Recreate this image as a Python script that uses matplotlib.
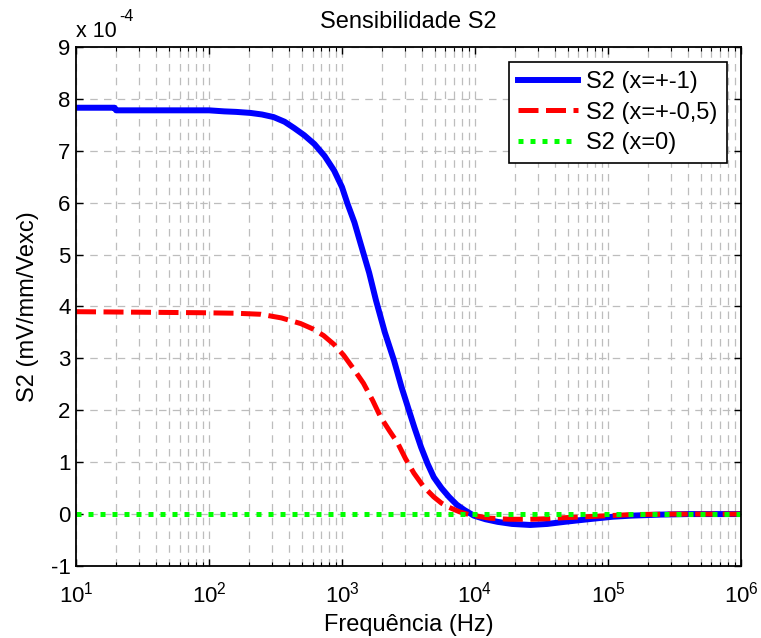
import matplotlib.pyplot as plt
from matplotlib.ticker import FuncFormatter, LogLocator, NullFormatter

plt.rcParams["font.family"] = "Liberation Sans"
plt.rcParams["mathtext.fontset"] = "custom"
plt.rcParams["mathtext.rm"] = "Liberation Sans"

# values (S2 in units of 1e-4 mV/mm/Vexc)
freq_1 = [10, 19.5, 20, 50, 100, 130, 160, 205, 250, 306, 370, 436, 520, 620,
          740, 872, 1000, 1100, 1240, 1380, 1600, 1800, 2100, 2460, 2800, 3130,
          3500, 3930, 4400, 4900, 5600, 6380, 7300, 8300, 9800, 12000, 14800,
          19000, 26000, 35000, 47000, 65000, 84000, 110000, 150000, 250000,
          400000, 1e6]
s2_1 = [7.83, 7.83, 7.78, 7.78, 7.78, 7.76, 7.75, 7.73, 7.70, 7.65, 7.56, 7.44,
        7.30, 7.13, 6.90, 6.62, 6.30, 5.98, 5.62, 5.21, 4.65, 4.12, 3.50, 2.96,
        2.45, 2.06, 1.67, 1.29, 0.97, 0.71, 0.50, 0.33, 0.18, 0.08, -0.03,
        -0.10, -0.15, -0.19, -0.21, -0.19, -0.15, -0.11, -0.08, -0.05, -0.03,
        -0.01, 0.0, 0.0]

freq_05 = [10, 86, 160, 245, 350, 490, 600, 727, 870, 1030, 1220, 1450, 1700,
           1950, 2280, 2620, 3000, 3470, 4100, 4900, 5600, 6380, 7700, 9000,
           11000, 13000, 18000, 26000, 35000, 47000, 84000, 150000, 300000, 1e6]
s2_05 = [3.90, 3.88, 3.87, 3.85, 3.78, 3.67, 3.57, 3.44, 3.27, 3.06, 2.80, 2.52,
         2.19, 1.87, 1.60, 1.37, 1.07, 0.79, 0.53, 0.33, 0.21, 0.13, 0.04, -0.01,
         -0.05, -0.08, -0.10, -0.10, -0.09, -0.07, -0.04, -0.01, 0.0, 0.0]

freq_0 = [10, 1e6]
s2_0 = [0.0, 0.0]

scale = 1e-4
s2_1 = [v * scale for v in s2_1]
s2_05 = [v * scale for v in s2_05]
s2_0 = [v * scale for v in s2_0]

fig = plt.figure(figsize=(7.61, 6.38), dpi=100)
ax = fig.add_axes([0.0999, 0.1129, 0.8738, 0.8134])

ax.semilogx(freq_1, s2_1, color="#0000ff", lw=4.3, label="S2 (x=+-1)")
ax.semilogx(freq_05, s2_05, color="#ff0000", lw=3.6, dashes=(4, 1.5),
            label="S2 (x=+-0,5)")
ax.semilogx(freq_0, s2_0, color="#00ff00", lw=3.6, dashes=(1, 1.4),
            label="S2 (x=0)")

ax.set_xlim(10, 1e6)
ax.set_ylim(-1e-4, 9e-4)
ax.set_yticks([i * scale for i in range(-1, 10)])
ax.yaxis.set_major_formatter(FuncFormatter(lambda v, p: "%d" % round(v / scale)))
ax.xaxis.set_major_locator(LogLocator(base=10, numticks=10))
ax.xaxis.set_minor_locator(LogLocator(base=10, subs=range(2, 10), numticks=20))
ax.xaxis.set_minor_formatter(NullFormatter())

ax.grid(True, which="major", color="#bdbdbd", ls=(0, (6, 5)), lw=0.9)
ax.grid(True, which="minor", axis="x", color="#bdbdbd", ls=(0, (6, 5)), lw=0.9)
ax.tick_params(which="both", direction="in", top=True, right=True,
               labelsize=16, colors="black")
ax.tick_params(which="major", length=5, width=1)
ax.tick_params(axis="x", which="major", pad=11)
ax.tick_params(axis="y", which="major", pad=4)
ax.tick_params(which="minor", length=3, width=0.8)
for s in ax.spines.values():
    s.set_linewidth(1.3)

ax.set_title("Sensibilidade S2", fontsize=17, pad=14)
ax.set_xlabel("Frequência (Hz)", fontsize=17, labelpad=5)
ax.set_ylabel("S2 (mV/mm/Vexc)", fontsize=17, labelpad=8)

fig.text(76 / 761, 1 - 37 / 638, "x 10", fontsize=15.5, ha="left", va="baseline")
fig.text(119 / 761, 1 - 21 / 638, "-4", fontsize=11.5, ha="left", va="baseline")

leg = ax.legend(loc="upper right", bbox_to_anchor=(0.99, 0.985), fontsize=17,
                fancybox=False, framealpha=1, edgecolor="black",
                handlelength=2.55, borderpad=0.4, labelspacing=0.35,
                handletextpad=0.35, borderaxespad=0.3)
leg.get_frame().set_linewidth(1.2)

fig.savefig("out.png", dpi=100)
